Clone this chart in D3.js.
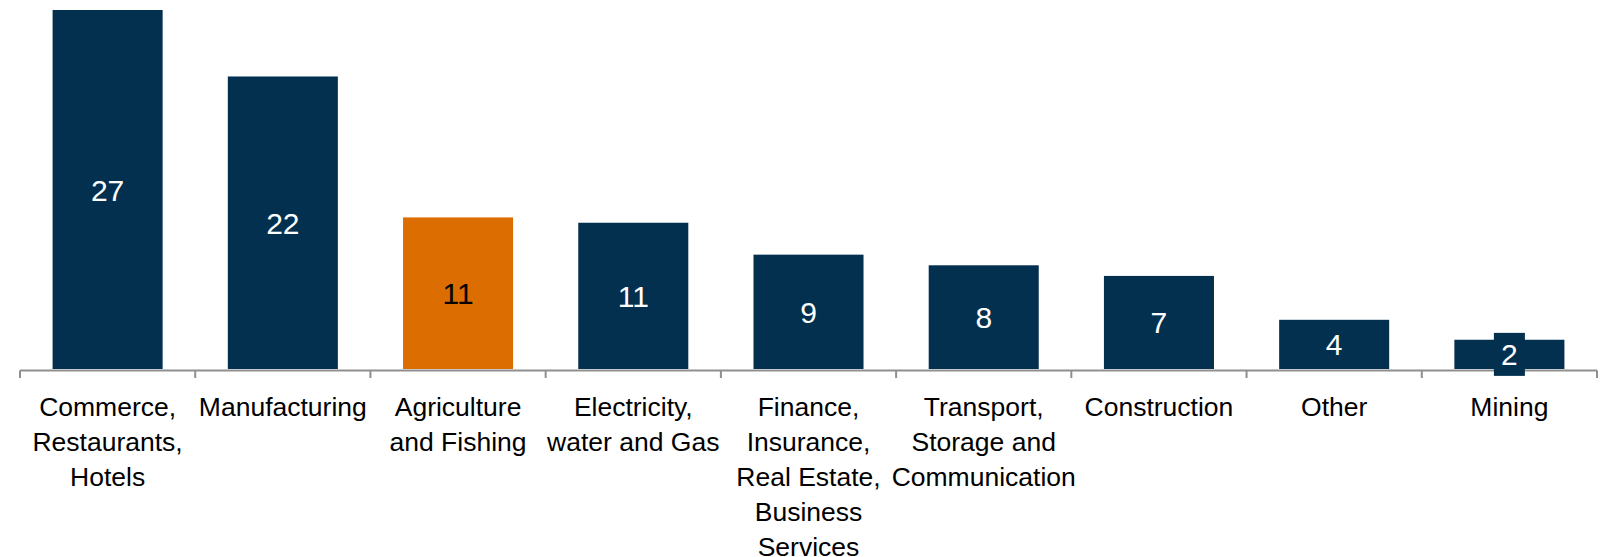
<!DOCTYPE html>
<html>
<head>
<meta charset="utf-8">
<script src="https://cdn.jsdelivr.net/npm/d3@7"></script>
<style>
  html, body { margin: 0; padding: 0; background: #ffffff; }
  svg { display: block; font-family: "Liberation Sans", Arial, sans-serif; }
</style>
</head>
<body>
<svg id="chart" width="1606" height="557"></svg>
<script>
const categories = [
  "Commerce,\nRestaurants,\nHotels",
  "Manufacturing",
  "Agriculture\nand Fishing",
  "Electricity,\nwater and Gas",
  "Finance,\nInsurance,\nReal Estate,\nBusiness\nServices",
  "Transport,\nStorage and\nCommunication",
  "Construction",
  "Other",
  "Mining"
];
const values = [27, 22, 11.4, 11, 8.6, 7.8, 7.0, 3.7, 2.2];
const highlighted = ["Agriculture\nand Fishing"];
const boxedLabels = ["Mining"];

const navy = "#03304f";
const orange = "#dc6d00";
const axisGrey = "#8f8f8f";

const svg = d3.select("#chart");

const x = d3.scaleBand()
  .domain(categories)
  .range([20, 1597])
  .paddingInner(0.372)
  .paddingOuter(0.186);

const y = d3.scaleLinear()
  .domain([0, 27])
  .range([369, 10]);

const fmt = d3.format(".0f");

// bars
svg.append("g").selectAll("rect")
  .data(categories)
  .join("rect")
  .attr("x", d => x(d))
  .attr("width", x.bandwidth())
  .attr("y", (d, i) => y(values[i]))
  .attr("height", (d, i) => y(0) - y(values[i]))
  .attr("fill", d => highlighted.includes(d) ? orange : navy);

// axis line and boundary ticks
const step = x.step();
const x0 = x.range()[0];
const axisG = svg.append("g");
axisG.append("line")
  .attr("x1", x0).attr("x2", x.range()[1])
  .attr("y1", y(0) + 1.5).attr("y2", y(0) + 1.5)
  .attr("stroke", axisGrey).attr("stroke-width", 2);
axisG.selectAll("line.tick")
  .data(d3.range(categories.length + 1))
  .join("line")
  .attr("class", "tick")
  .attr("x1", i => x0 + i * step).attr("x2", i => x0 + i * step)
  .attr("y1", y(0) + 1.5).attr("y2", y(0) + 9)
  .attr("stroke", axisGrey).attr("stroke-width", 2);

// value labels
const lbl = svg.append("g").selectAll("g")
  .data(categories)
  .join("g")
  .attr("transform", (d, i) => {
    const cx = x(d) + x.bandwidth() / 2;
    const cy = (y(values[i]) + y(0)) / 2;
    return `translate(${cx},${cy})`;
  });
lbl.filter(d => boxedLabels.includes(d))
  .append("rect")
  .attr("x", -15.5).attr("y", -21.5)
  .attr("width", 31).attr("height", 43)
  .attr("fill", navy);
lbl.append("text")
  .attr("text-anchor", "middle")
  .attr("y", 11)
  .attr("font-size", 30)
  .attr("fill", d => highlighted.includes(d) ? "#000000" : "#ffffff")
  .text((d, i) => fmt(values[i]));

// category labels
const cat = svg.append("g").selectAll("text")
  .data(categories)
  .join("text")
  .attr("text-anchor", "middle")
  .attr("font-size", 26.5)
  .attr("fill", "#000000")
  .attr("x", d => x(d) + x.bandwidth() / 2)
  .attr("y", 416);
cat.selectAll("tspan")
  .data(d => d.split("\n").map(t => ({ t, parent: d })))
  .join("tspan")
  .attr("x", function() { return this.parentNode.getAttribute("x"); })
  .attr("dy", (d, i) => i === 0 ? 0 : 35)
  .text(d => d.t);
</script>
</body>
</html>
